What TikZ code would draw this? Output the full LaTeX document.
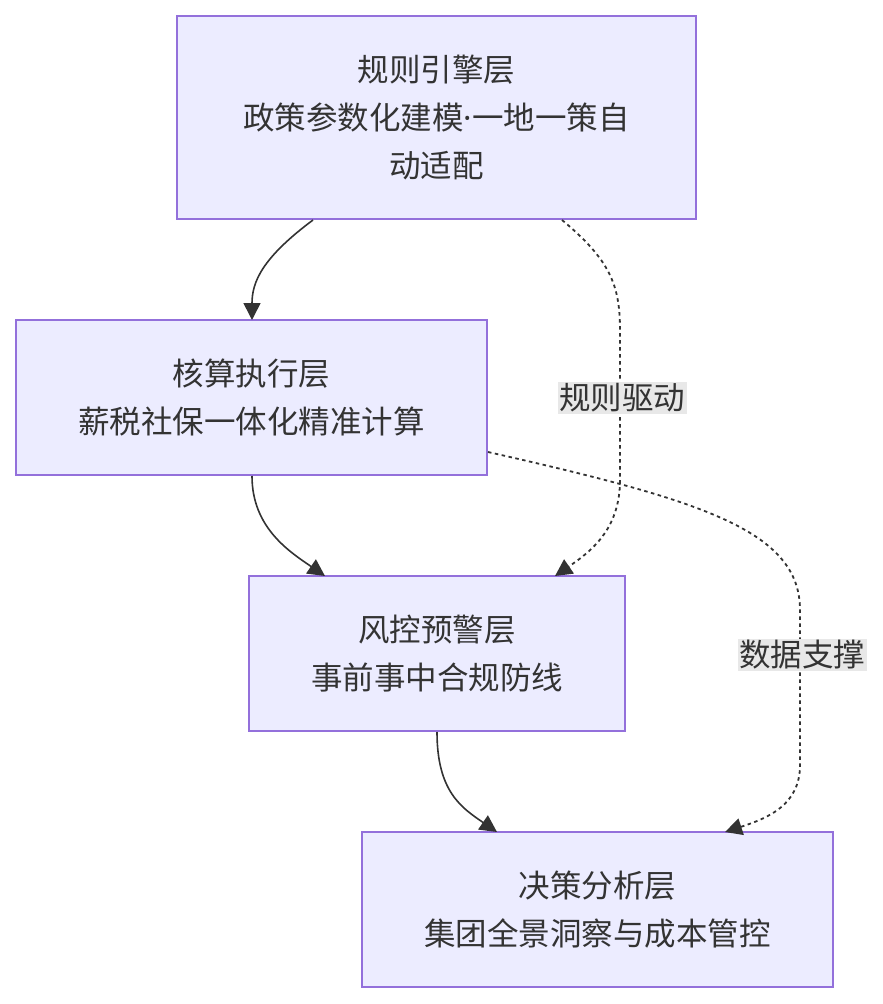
\documentclass[tikz,border=0pt]{standalone}
\usepackage{fontspec}
\setmainfont{Noto Sans CJK SC}
\newfontfamily\latinfont{Noto Sans}
\usetikzlibrary{arrows.meta}
\definecolor{boxfill}{HTML}{ECECFF}
\definecolor{boxline}{HTML}{9370DB}
\definecolor{ink}{HTML}{333333}
\definecolor{lblbg}{HTML}{E8E8E8}
\begin{document}
\begin{tikzpicture}[x=1pt,y=1pt,
  layer/.style={draw=boxline,fill=boxfill,line width=1.6pt,text=ink,align=center,
    font=\fontsize{31.5}{48}\selectfont,inner sep=0pt},
  link/.style={draw=ink,line width=1.6pt,-{Triangle[length=17pt,width=17pt]}},
  dlink/.style={link,line width=1.8pt,dash pattern=on 3.5pt off 3.5pt},
  lbl/.style={fill=lblbg,text=ink,font=\fontsize{31.5}{36}\selectfont,inner sep=1.5pt}]
\useasboundingbox (0,0) rectangle (883,-1004);
\node[layer,minimum width=519pt,minimum height=203pt] (r) at (436.5,-117.5) {规则引擎层\\政策参数化建模{\latinfont ·}一地一策自\\动适配};
\node[layer,minimum width=471pt,minimum height=155pt] (c) at (251.5,-397.5) {核算执行层\\薪税社保一体化精准计算};
\node[layer,minimum width=376pt,minimum height=155pt] (w) at (437,-653.5) {风控预警层\\事前事中合规防线};
\node[layer,minimum width=471pt,minimum height=155pt] (d) at (597.5,-909.5) {决策分析层\\集团全景洞察与成本管控};
\coordinate (r1) at (313,-220);
\coordinate (c1) at (252,-320);
\coordinate (c2) at (252,-476);
\coordinate (w1) at (325,-576);
\coordinate (w2) at (437,-732);
\coordinate (d1) at (497,-832);
\coordinate (r2) at (562,-220);
\coordinate (w3) at (555,-576);
\coordinate (c3) at (488,-452);
\coordinate (d2) at (725,-832);
\draw[link] (r1) .. controls (262,-258) and (252,-282) .. (c1);
\draw[link] (c2) .. controls (252,-528) and (290,-552) .. (w1);
\draw[link] (w2) .. controls (437,-792) and (462,-808) .. (d1);
\draw[dlink] (r2) .. controls (610,-260) and (620,-285) .. (620,-330) -- (620,-480) .. controls (620,-530) and (590,-552) .. (w3);
\draw[dlink] (c3) .. controls (700,-500) and (800,-530) .. (800,-610) -- (800,-765) .. controls (800,-805) and (768,-818) .. (d2);
\node[lbl] (l1) at (622,-398) {规则驱动};
\node[lbl] (l2) at (802,-655) {数据支撑};
\end{tikzpicture}
\end{document}
